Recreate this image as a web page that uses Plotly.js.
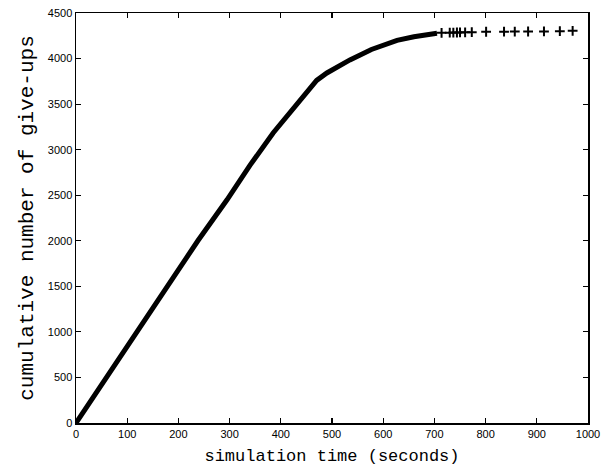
<!DOCTYPE html>
<html>
<head>
<meta charset="utf-8">
<script src="https://cdn.plot.ly/plotly-3.0.1.min.js"></script>
<style>
  html, body { margin: 0; padding: 0; background: #fff; }
  #chart { width: 606px; height: 472px; }
</style>
</head>
<body>
<div id="chart"></div>
<script>
// Dense part of the curve
const denseTime = [0, 30, 59, 119, 180, 238, 295, 340, 385, 424, 457, 470, 490, 535, 577, 627, 660, 691, 705];
const denseGiveUps = [0, 250, 500, 1000, 1500, 2000, 2450, 2830, 3183, 3450, 3688, 3760, 3842, 3985, 4100, 4200, 4240, 4265, 4277];

// Sparse tail of individual give-up events
const tailTime = [714, 730, 737, 744, 750, 760, 773, 801, 836, 857, 883, 914, 945, 970];
const tailGiveUps = [4282, 4284, 4285, 4286, 4287, 4288, 4289, 4294, 4295, 4296, 4297, 4298, 4300, 4304];

const xTicks = [0, 100, 200, 300, 400, 500, 600, 700, 800, 900, 1000];
const yTicks = [0, 500, 1000, 1500, 2000, 2500, 3000, 3500, 4000, 4500];

const traces = [
  {
    x: denseTime, y: denseGiveUps, type: 'scatter', mode: 'lines',
    line: { color: '#000', width: 5 }, hoverinfo: 'x+y', showlegend: false
  },
  {
    x: tailTime, y: tailGiveUps, type: 'scatter', mode: 'markers',
    marker: { symbol: 'cross-thin', size: 7, color: '#000', line: { color: '#000', width: 2 } },
    showlegend: false
  }
];

const tickFont = { family: 'Liberation Sans, Arial, sans-serif', size: 11, color: '#000' };
const titleFont = { family: 'Liberation Mono, Courier New, monospace', color: '#000' };

const layout = {
  width: 606, height: 472,
  margin: { l: 76, r: 18, t: 13, b: 49, pad: 0 },
  paper_bgcolor: '#fff', plot_bgcolor: '#fff',
  showlegend: false,
  xaxis: {
    range: [0, 1000], tickvals: xTicks, ticktext: xTicks.map(String),
    ticks: 'inside', ticklen: 5, tickwidth: 1.2, tickcolor: '#000',
    showline: true, linecolor: '#000', linewidth: 1.5, mirror: 'ticks',
    showgrid: false, zeroline: false, tickfont: tickFont,
    title: { text: 'simulation time (seconds)', font: Object.assign({ size: 17 }, titleFont), standoff: 10 }
  },
  yaxis: {
    range: [0, 4500], tickvals: yTicks, ticktext: yTicks.map(String),
    ticks: 'inside', ticklen: 5, tickwidth: 1.2, tickcolor: '#000',
    showline: true, linecolor: '#000', linewidth: 1.5, mirror: 'ticks',
    showgrid: false, zeroline: false, tickfont: tickFont,
    title: { text: 'cumulative number of give-ups', font: Object.assign({ size: 21 }, titleFont), standoff: 8 }
  }
};

Plotly.newPlot('chart', traces, layout, { displayModeBar: false, staticPlot: true });
</script>
</body>
</html>
